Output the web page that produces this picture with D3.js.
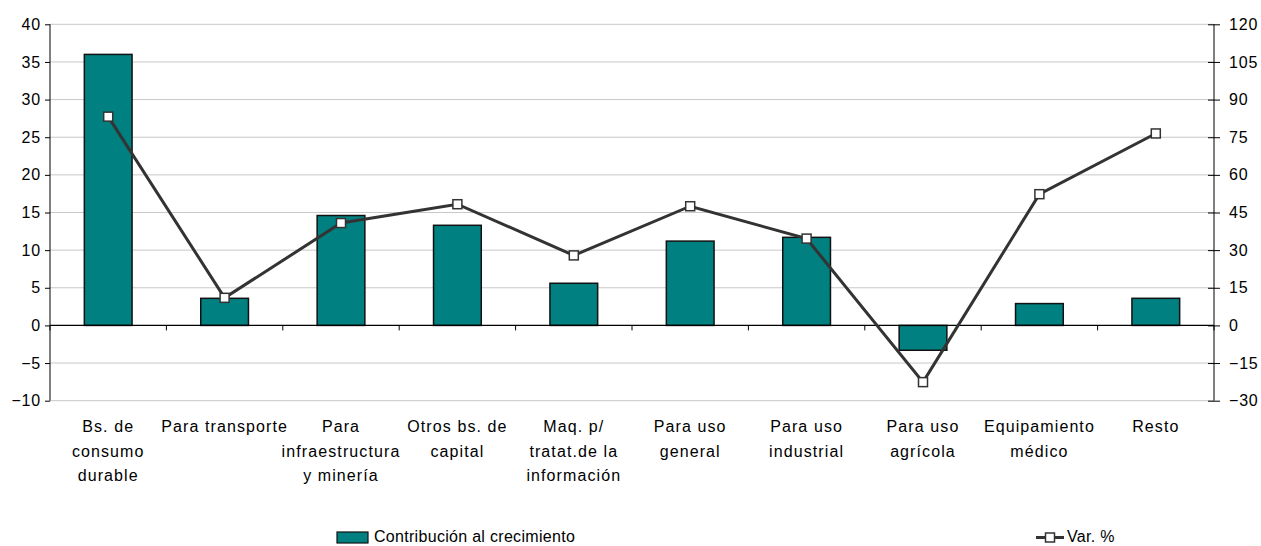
<!DOCTYPE html>
<html>
<head>
<meta charset="utf-8">
<script src="https://cdn.jsdelivr.net/npm/d3@7"></script>
<style>
  body { margin: 0; background: #fff; }
  svg { display: block; font-family: "Liberation Sans", Arial, sans-serif; }
</style>
</head>
<body>
<svg id="chart" width="1261" height="546"></svg>
<script>
const categories = [
  ['Bs. de', 'consumo', 'durable'],
  ['Para transporte'],
  ['Para', 'infraestructura', 'y minería'],
  ['Otros bs. de', 'capital'],
  ['Maq. p/', 'tratat.de la', 'información'],
  ['Para uso', 'general'],
  ['Para uso', 'industrial'],
  ['Para uso', 'agrícola'],
  ['Equipamiento', 'médico'],
  ['Resto']
];
const contribucion = [36.0, 3.6, 14.6, 13.3, 5.6, 11.2, 11.7, -3.3, 2.9, 3.6];
const variacion = [83.2, 11.0, 40.8, 48.3, 27.9, 47.5, 34.6, -22.6, 52.3, 76.5];
const leftTicks = [-10, -5, 0, 5, 10, 15, 20, 25, 30, 35, 40];
const rightTicks = [-30, -15, 0, 15, 30, 45, 60, 75, 90, 105, 120];

const svg = d3.select('#chart');
const plotL = 50, plotR = 1214, plotT = 24.3, plotB = 400.7;
const fontSize = 16;

const x = d3.scaleBand()
  .domain(d3.range(categories.length))
  .range([plotL, plotR])
  .padding(0);
const yL = d3.scaleLinear().domain([-10, 40]).range([plotB, plotT]);
const yR = d3.scaleLinear().domain([-30, 120]).range([plotB, plotT]);

// gridlines
svg.append('g')
  .selectAll('line')
  .data(leftTicks.filter(d => d !== 0))
  .join('line')
    .attr('x1', plotL).attr('x2', plotR)
    .attr('y1', d => yL(d)).attr('y2', d => yL(d))
    .attr('stroke', '#c8c8c8')
    .attr('stroke-width', 1);

// bars
const barW = x.bandwidth() * 0.41;
svg.append('g')
  .selectAll('rect')
  .data(contribucion)
  .join('rect')
    .attr('x', (d, i) => x(i) + x.bandwidth() / 2 - barW / 2)
    .attr('y', d => yL(Math.max(0, d)))
    .attr('width', barW)
    .attr('height', d => Math.abs(yL(d) - yL(0)))
    .attr('fill', '#008080')
    .attr('stroke', '#111')
    .attr('stroke-width', 1.5);

// zero line + category ticks
svg.append('line')
  .attr('x1', plotL).attr('x2', plotR)
  .attr('y1', yL(0)).attr('y2', yL(0))
  .attr('stroke', '#000').attr('stroke-width', 1.2);
svg.append('g')
  .selectAll('line')
  .data(d3.range(categories.length + 1))
  .join('line')
    .attr('x1', i => plotL + i * x.step()).attr('x2', i => plotL + i * x.step())
    .attr('y1', yL(0)).attr('y2', yL(0) + 5)
    .attr('stroke', '#000');

// left axis
const axL = svg.append('g')
  .attr('transform', `translate(${plotL},0)`)
  .call(d3.axisLeft(yL).tickValues(leftTicks).tickSize(5).tickPadding(4));
// right axis
const axR = svg.append('g')
  .attr('transform', `translate(${plotR},0)`)
  .call(d3.axisRight(yR).tickValues(rightTicks).tickSize(6).tickPadding(9));
axR.selectAll('.tick line').attr('x1', -6);
[axL, axR].forEach(ax => {
  ax.select('.domain').attr('stroke', '#000').attr('d', `M0,${plotT}V${plotB}`);
  ax.selectAll('.tick line').attr('stroke', '#000');
  ax.selectAll('text')
    .attr('font-family', '"Liberation Sans", Arial, sans-serif')
    .attr('font-size', fontSize)
    .attr('fill', '#000')
    .attr('letter-spacing', 0.8);
});

// line series
const line = d3.line()
  .x((d, i) => x(i) + x.bandwidth() / 2)
  .y(d => yR(d));
svg.append('path')
  .datum(variacion)
  .attr('d', line)
  .attr('fill', 'none')
  .attr('stroke', '#333')
  .attr('stroke-width', 3);
svg.append('g')
  .selectAll('rect')
  .data(variacion)
  .join('rect')
    .attr('x', (d, i) => x(i) + x.bandwidth() / 2 - 4.5)
    .attr('y', d => yR(d) - 4.5)
    .attr('width', 9).attr('height', 9)
    .attr('fill', '#fff')
    .attr('stroke', '#333')
    .attr('stroke-width', 1.5);

// category labels
const lbl = svg.append('g')
  .selectAll('text')
  .data(categories)
  .join('text')
    .attr('x', (d, i) => x(i) + x.bandwidth() / 2)
    .attr('y', 432)
    .attr('text-anchor', 'middle')
    .attr('font-size', fontSize)
    .attr('letter-spacing', 1.1)
    .attr('fill', '#000');
lbl.selectAll('tspan')
  .data((d, i) => d.map(t => ({ t, i })))
  .join('tspan')
    .attr('x', d => x(d.i) + x.bandwidth() / 2)
    .attr('dy', (d, j) => j === 0 ? 0 : 24.6)
    .text(d => d.t);

// legend
const lg = svg.append('g');
lg.append('rect')
  .attr('x', 337).attr('y', 532)
  .attr('width', 31).attr('height', 11)
  .attr('fill', '#008080').attr('stroke', '#111').attr('stroke-width', 1.2);
lg.append('text')
  .attr('x', 374).attr('y', 542)
  .attr('font-size', 16)
  .attr('letter-spacing', 0.3)
  .text('Contribución al crecimiento');
lg.append('line')
  .attr('x1', 1036).attr('x2', 1064)
  .attr('y1', 537.5).attr('y2', 537.5)
  .attr('stroke', '#333').attr('stroke-width', 3);
lg.append('rect')
  .attr('x', 1045.5).attr('y', 533)
  .attr('width', 9).attr('height', 9)
  .attr('fill', '#fff').attr('stroke', '#333').attr('stroke-width', 1.5);
lg.append('text')
  .attr('x', 1067).attr('y', 542)
  .attr('font-size', 16)
  .attr('letter-spacing', 0.3)
  .text('Var. %');
</script>
</body>
</html>
